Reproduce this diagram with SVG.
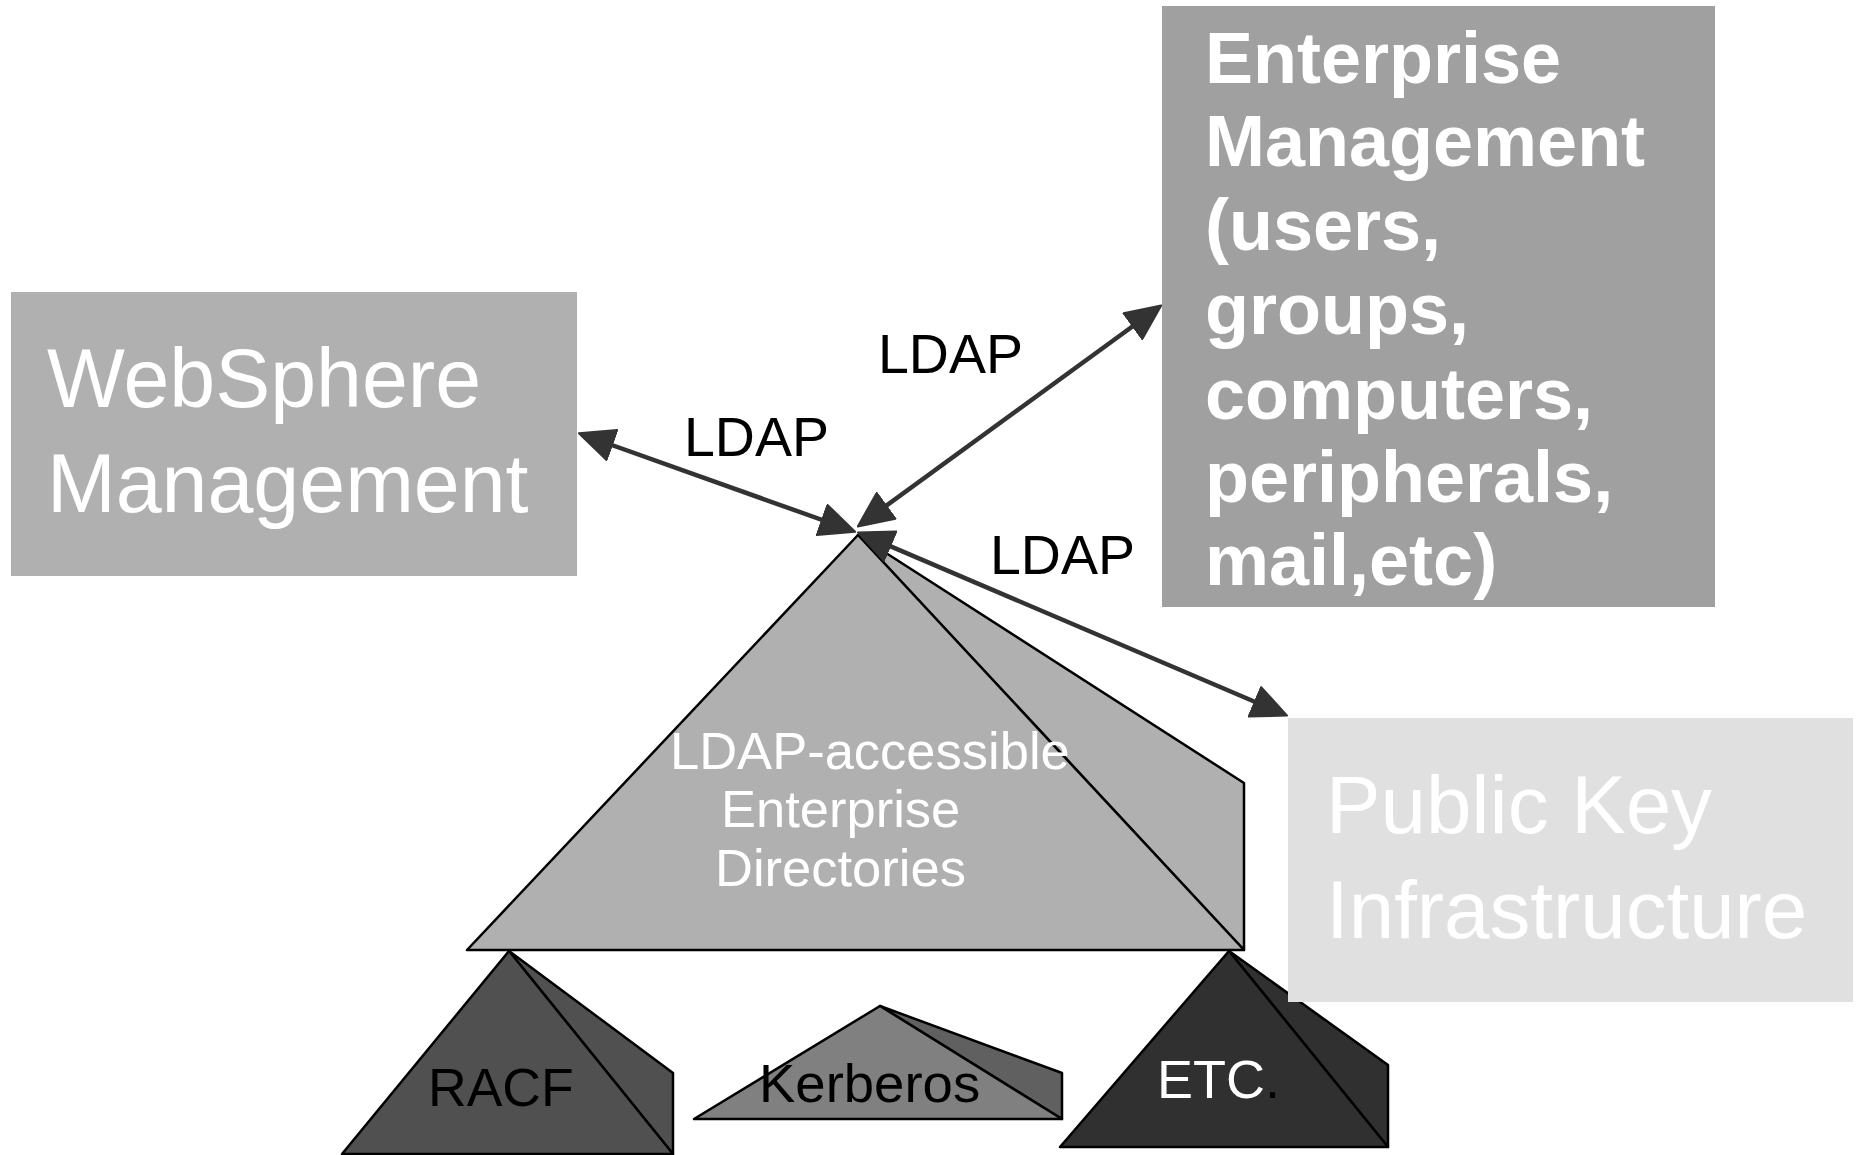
<svg xmlns="http://www.w3.org/2000/svg" width="1858" height="1155" viewBox="0 0 1858 1155">
<style>
text{font-family:"Liberation Sans",Arial,sans-serif}
.wt{fill:#ffffff}
.bk{fill:#000000}
.box{stroke:none}
.pyr{stroke:#000;stroke-width:2.5;stroke-linejoin:round}
.conn{fill:none;stroke:#333333;stroke-width:4.5;marker-start:url(#ah);marker-end:url(#ah)}
.lbl{font-size:55.5px;fill:#000}
</style>
<defs>
<marker id="ah" viewBox="0 0 37 34" refX="22" refY="17" markerWidth="37" markerHeight="34" markerUnits="userSpaceOnUse" orient="auto-start-reverse">
<path d="M1,1 L36,17 L1,33 z" fill="#333333" stroke="#333333" stroke-width="2" stroke-linejoin="round"/>
</marker>
</defs>
<rect width="1858" height="1155" fill="#ffffff"/>

<g id="websphere">
<rect class="box" x="11" y="292" width="566" height="284" fill="#b0b0b0"/>
<text class="wt" font-size="82.5" x="47" y="407">WebSphere</text>
<text class="wt" font-size="82.5" x="47" y="512">Management</text>
</g>

<g id="enterprise">
<rect class="box" x="1162" y="6" width="553" height="601" fill="#a0a0a0"/>
<g class="wt" font-size="72" font-weight="bold">
<text x="1205" y="83">Enterprise</text>
<text x="1205" y="166">Management</text>
<text x="1205" y="250">(users,</text>
<text x="1205" y="334">groups,</text>
<text x="1205" y="419">computers,</text>
<text x="1205" y="502">peripherals,</text>
<text x="1205" y="585">mail,etc)</text>
</g>
</g>

<g id="directories">
<polygon class="pyr" points="858,535 1244,783 1244,950" fill="#b0b0b0"/>
<polygon class="pyr" points="858,535 467,950 1244,950" fill="#b0b0b0"/>
<text class="wt" font-size="52.5" x="670" y="769">LDAP-accessible</text>
<text class="wt" font-size="52.5" x="721" y="827">Enterprise</text>
<text class="wt" font-size="52.5" x="715" y="886">Directories</text>
</g>

<g id="racf">
<polygon class="pyr" points="509,951 673,1073 673,1154" fill="#505050"/>
<polygon class="pyr" points="509,951 342,1154 673,1154" fill="#505050"/>
<text class="bk" font-size="53.5" x="428" y="1106">RACF</text>
</g>

<g id="kerberos">
<polygon class="pyr" points="880,1006 1062,1073 1062,1119" fill="#606060"/>
<polygon class="pyr" points="880,1006 694,1119 1062,1119" fill="#808080"/>
<text class="bk" font-size="54.5" x="759" y="1102">Kerberos</text>
</g>

<g id="etc">
<polygon class="pyr" points="1229,951 1388,1065 1388,1147" fill="#303030"/>
<polygon class="pyr" points="1229,951 1060,1147 1388,1147" fill="#303030"/>
<text font-size="54" x="1157" y="1098"><tspan class="wt">ETC</tspan><tspan class="bk">.</tspan></text>
</g>

<g id="pki">
<rect class="box" x="1288" y="718" width="565" height="284" fill="#e0e0e0"/>
<text class="wt" font-size="81.7" x="1326" y="833">Public Key</text>
<text class="wt" font-size="81.7" x="1326" y="938">Infrastructure</text>
</g>

<g id="connectors">
<line class="conn" x1="592.1" y1="438.0" x2="841.9" y2="527.0"/>
<line class="conn" x1="1149.9" y1="313.8" x2="869.1" y2="518.2"/>
<line class="conn" x1="870.8" y1="537.9" x2="1274.2" y2="710.1"/>
<text class="lbl" x="684" y="456">LDAP</text>
<text class="lbl" x="878" y="373">LDAP</text>
<text class="lbl" x="990" y="574">LDAP</text>
</g>
</svg>
